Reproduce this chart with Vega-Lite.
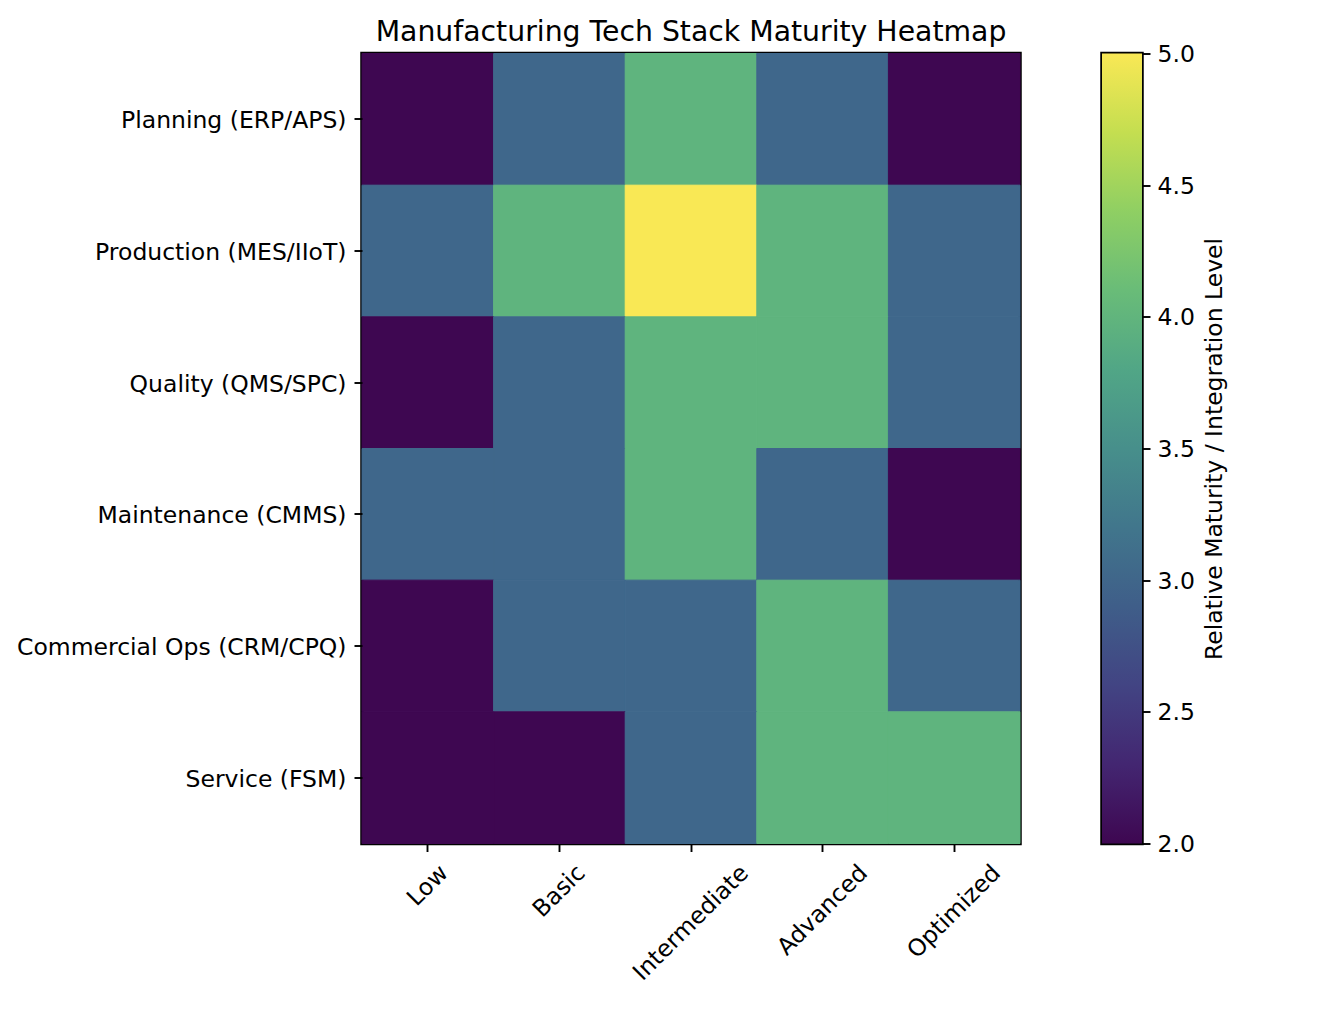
{
  "$schema": "https://vega.github.io/schema/vega-lite/v6.json",
  "autosize": {"type": "pad"},
  "padding": {"left": 14, "top": 15.5, "right": 5, "bottom": 5},
  "background": "white",
  "bounds": "flush",
  "spacing": 82,
  "config": {
    "font": "DejaVu Sans",
    "view": {"stroke": "black", "strokeWidth": 3.5},
    "axis": {
      "labelFont": "DejaVu Sans",
      "labelFontSize": 23.5,
      "labelColor": "black",
      "labelLimit": 700,
      "tickColor": "black",
      "tickWidth": 1.9,
      "tickSize": 8,
      "labelPadding": 8,
      "domain": false,
      "grid": false,
      "titleFont": "DejaVu Sans",
      "titleColor": "black",
      "titleFontWeight": "normal"
    }
  },
  "hconcat": [
    {
      "width": 658,
      "height": 790,
      "title": {
        "text": "Manufacturing Tech Stack Maturity Heatmap",
        "font": "DejaVu Sans",
        "fontSize": 28.3,
        "fontWeight": "normal",
        "color": "black",
        "anchor": "middle",
        "frame": "group",
        "offset": 6
      },
      "data": {
        "values": [
          {"area": "Planning (ERP/APS)", "level": "Low", "value": 2},
          {"area": "Planning (ERP/APS)", "level": "Basic", "value": 3},
          {"area": "Planning (ERP/APS)", "level": "Intermediate", "value": 4},
          {"area": "Planning (ERP/APS)", "level": "Advanced", "value": 3},
          {"area": "Planning (ERP/APS)", "level": "Optimized", "value": 2},
          {"area": "Production (MES/IIoT)", "level": "Low", "value": 3},
          {"area": "Production (MES/IIoT)", "level": "Basic", "value": 4},
          {"area": "Production (MES/IIoT)", "level": "Intermediate", "value": 5},
          {"area": "Production (MES/IIoT)", "level": "Advanced", "value": 4},
          {"area": "Production (MES/IIoT)", "level": "Optimized", "value": 3},
          {"area": "Quality (QMS/SPC)", "level": "Low", "value": 2},
          {"area": "Quality (QMS/SPC)", "level": "Basic", "value": 3},
          {"area": "Quality (QMS/SPC)", "level": "Intermediate", "value": 4},
          {"area": "Quality (QMS/SPC)", "level": "Advanced", "value": 4},
          {"area": "Quality (QMS/SPC)", "level": "Optimized", "value": 3},
          {"area": "Maintenance (CMMS)", "level": "Low", "value": 3},
          {"area": "Maintenance (CMMS)", "level": "Basic", "value": 3},
          {"area": "Maintenance (CMMS)", "level": "Intermediate", "value": 4},
          {"area": "Maintenance (CMMS)", "level": "Advanced", "value": 3},
          {"area": "Maintenance (CMMS)", "level": "Optimized", "value": 2},
          {"area": "Commercial Ops (CRM/CPQ)", "level": "Low", "value": 2},
          {"area": "Commercial Ops (CRM/CPQ)", "level": "Basic", "value": 3},
          {"area": "Commercial Ops (CRM/CPQ)", "level": "Intermediate", "value": 3},
          {"area": "Commercial Ops (CRM/CPQ)", "level": "Advanced", "value": 4},
          {"area": "Commercial Ops (CRM/CPQ)", "level": "Optimized", "value": 3},
          {"area": "Service (FSM)", "level": "Low", "value": 2},
          {"area": "Service (FSM)", "level": "Basic", "value": 2},
          {"area": "Service (FSM)", "level": "Intermediate", "value": 3},
          {"area": "Service (FSM)", "level": "Advanced", "value": 4},
          {"area": "Service (FSM)", "level": "Optimized", "value": 4}
        ]
      },
      "mark": {"type": "rect", "strokeWidth": 1},
      "encoding": {
        "x": {
          "field": "level",
          "type": "nominal",
          "sort": ["Low", "Basic", "Intermediate", "Advanced", "Optimized"],
          "scale": {"paddingInner": 0, "paddingOuter": 0},
          "axis": {
            "title": null,
            "labelAngle": -45,
            "labelAlign": "right",
            "labelBaseline": "middle",
            "labelOverlap": false,
            "labelPadding": 17.5,
            "labelOffset": {
              "condition": [
                {"test": "datum.label === 'Low'", "value": 16.5},
                {"test": "datum.label === 'Basic'", "value": 22.0},
                {"test": "datum.label === 'Intermediate'", "value": 53.8},
                {"test": "datum.label === 'Advanced'", "value": 41.2}
              ],
              "value": 42.6
            }
          }
        },
        "y": {
          "field": "area",
          "type": "nominal",
          "sort": ["Planning (ERP/APS)", "Production (MES/IIoT)", "Quality (QMS/SPC)", "Maintenance (CMMS)", "Commercial Ops (CRM/CPQ)", "Service (FSM)"],
          "scale": {"paddingInner": 0, "paddingOuter": 0},
          "axis": {"title": null, "labelOffset": 2}
        },
        "color": {
          "field": "value",
          "type": "quantitative",
          "scale": {"domain": [2, 3, 4, 5], "range": ["#3e0751", "#3f678b", "#5fb47e", "#f9e855"]},
          "legend": null
        },
        "stroke": {
          "field": "value",
          "type": "quantitative",
          "scale": {"domain": [2, 3, 4, 5], "range": ["#3e0751", "#3f678b", "#5fb47e", "#f9e855"]},
          "legend": null
        }
      }
    },
    {
      "width": 40,
      "height": 790,
      "data": {"values": [{"low": 2, "high": 5}]},
      "mark": {
        "type": "rect",
        "fill": {
          "gradient": "linear",
          "x1": 0, "y1": 1, "x2": 0, "y2": 0,
          "stops": [
            {"offset": 0.0, "color": "#3e0751"},
            {"offset": 0.1, "color": "#432671"},
            {"offset": 0.2, "color": "#424483"},
            {"offset": 0.3, "color": "#3f5e89"},
            {"offset": 0.4, "color": "#41768c"},
            {"offset": 0.5, "color": "#478f8b"},
            {"offset": 0.6, "color": "#51a686"},
            {"offset": 0.7, "color": "#69bc78"},
            {"offset": 0.8, "color": "#8fcf63"},
            {"offset": 0.9, "color": "#c4de50"},
            {"offset": 1.0, "color": "#f9e855"}
          ]
        }
      },
      "encoding": {
        "x": {"value": 0},
        "x2": {"value": "width"},
        "y": {
          "field": "low",
          "type": "quantitative",
          "scale": {"domain": [2, 5], "nice": false, "zero": false},
          "axis": {
            "orient": "right",
            "values": [2, 2.5, 3, 3.5, 4, 4.5, 5],
            "format": ".1f",
            "labelOffset": 1,
            "labelPadding": 7,
            "title": "Relative Maturity / Integration Level",
            "titleFontSize": 23.5,
            "titleAngle": 270,
            "titleBaseline": "top",
            "titlePadding": 8
          }
        },
        "y2": {"field": "high"}
      }
    }
  ]
}
